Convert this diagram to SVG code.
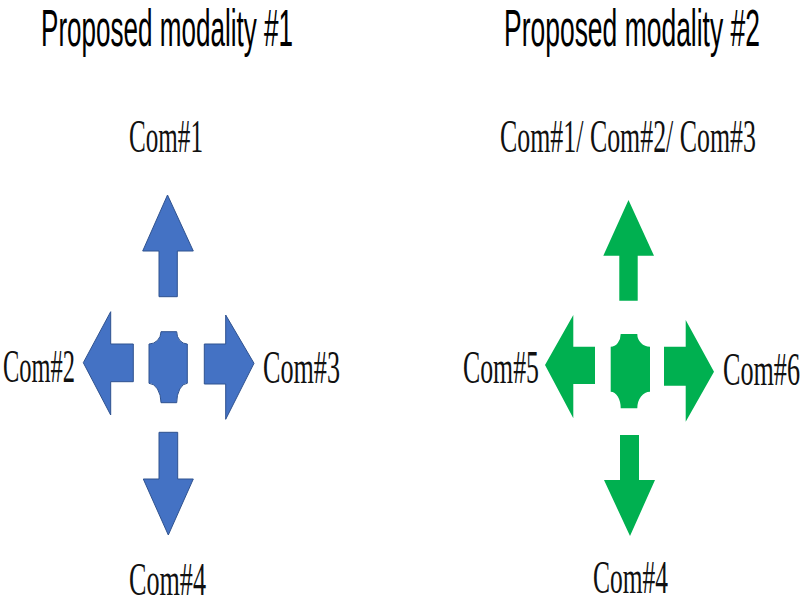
<svg xmlns="http://www.w3.org/2000/svg" width="800" height="600" viewBox="0 0 800 600">
<style>
.title{font-family:"Liberation Sans",Arial,sans-serif;font-size:52px;fill:#000}
.lbl{font-family:"Liberation Serif","Times New Roman",serif;font-size:47px;fill:#111}
.blue{fill:#4472C4;stroke:#2F528F;stroke-width:1}
.green{fill:#00B050;stroke:none}
</style>
<rect width="800" height="600" fill="#fff"/>
<g id="titles">
<text class="title" x="41" y="46" textLength="252" lengthAdjust="spacingAndGlyphs">Proposed modality #1</text>
<text class="title" x="504" y="46" textLength="256" lengthAdjust="spacingAndGlyphs">Proposed modality #2</text>
</g>
<g id="hub1"><path class="blue" d="M161,331.7 H176.7 A10.6,12.3 0 0 0 187.3,344 V383.3 A10.6,19.4 0 0 0 176.7,402.7 H161 A12,19.4 0 0 0 149,383.3 V344 A12,12.3 0 0 0 161,331.7 Z"/></g>
<g id="hub2"><path class="green" d="M620.7,334 H637.3 A12.7,12.7 0 0 0 650,346.7 V391.7 A12.7,16.6 0 0 0 637.3,408.3 H620.7 A10,16.6 0 0 0 610.7,391.7 V346.7 A10,12.7 0 0 0 620.7,334 Z"/></g>
<g id="connectors">
<path class="blue" d="M167.5,195 L193.3,251 H177.3 V296.7 H159 V251 H142.7 Z"/>
<path class="blue" d="M83.3,362.7 L110.7,311.7 V344 H133.3 V381.7 H110.7 V415 Z"/>
<path class="blue" d="M254,363.3 L225.7,419.3 V384 H204.3 V344 H225.7 V315 Z"/>
<path class="blue" d="M168.3,535 L143.3,479 H159 V432.3 H177.7 V479 H193.3 Z"/>
<path class="green" d="M628.5,200 L654,255.7 H637.7 V300.7 H619.3 V255.7 H603.3 Z"/>
<path class="green" d="M545,365 L573.3,315 V346.7 H595 V384 H573.3 V418.3 Z"/>
<path class="green" d="M714,371.7 L685.7,421.7 V385.7 H664 V346.7 H685.7 V320 Z"/>
<path class="green" d="M630,536 L604,480 H620 V435 H639 V480 H655 Z"/>
</g>
<g id="com1"><text class="lbl" x="129" y="152" textLength="74" lengthAdjust="spacingAndGlyphs">Com#1</text></g>
<g id="com2"><text class="lbl" x="3" y="382" textLength="72" lengthAdjust="spacingAndGlyphs">Com#2</text></g>
<g id="com3"><text class="lbl" x="263" y="383" textLength="77" lengthAdjust="spacingAndGlyphs">Com#3</text></g>
<g id="com4a"><text class="lbl" x="129" y="595" textLength="77" lengthAdjust="spacingAndGlyphs">Com#4</text></g>
<g id="com123"><text class="lbl" x="500" y="152" textLength="256" lengthAdjust="spacingAndGlyphs">Com#1/ Com#2/ Com#3</text></g>
<g id="com5"><text class="lbl" x="463" y="383" textLength="76" lengthAdjust="spacingAndGlyphs">Com#5</text></g>
<g id="com6"><text class="lbl" x="723" y="385" textLength="77" lengthAdjust="spacingAndGlyphs">Com#6</text></g>
<g id="com4b"><text class="lbl" x="593" y="593" textLength="75" lengthAdjust="spacingAndGlyphs">Com#4</text></g>
</svg>
